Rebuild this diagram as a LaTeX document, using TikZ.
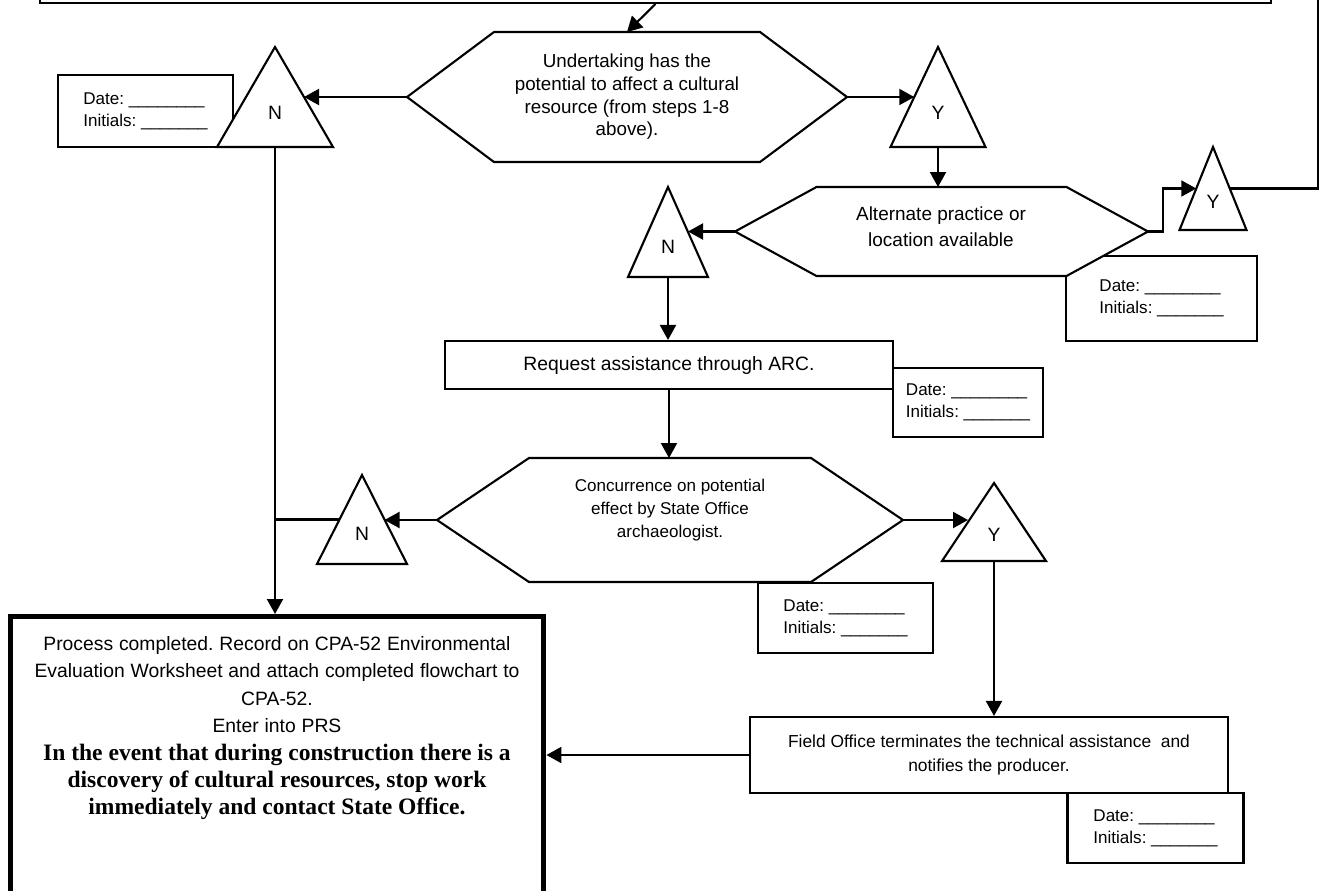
\documentclass[tikz,border=0pt]{standalone}
\usepackage{fontspec}
\setmainfont{Liberation Sans}
\newfontfamily\timesfont{Liberation Serif}
\usetikzlibrary{calc,arrows.meta}
\frenchspacing
\def\hexbox(#1)(#2,#3)(#4:#5:#6){%
	\coordinate (#1-w) at ({#2-#4},#3);
	\coordinate (#1-e) at ({#2+#4},#3);
	\coordinate (#1-n) at (#2,{#3-#5});
	\coordinate (#1-s) at (#2,{#3+#5});
	\draw[fill=white] (#1-w) -- ({#2-#4+#6},{#3-#5}) -- ({#2+#4-#6},{#3-#5}) -- (#1-e) -- ({#2+#4-#6},{#3+#5}) -- ({#2-#4+#6},{#3+#5}) -- cycle;}
\def\ynbox(#1)(#2,#3)(#4:#5)#6{%
	\coordinate (#1-n) at (#2,#3);
	\coordinate (#1-sw) at ({#2-#4},{#3+#5});
	\coordinate (#1-se) at ({#2+#4},{#3+#5});
	\draw[fill=white] (#1-n) -- (#1-sw) -- (#1-se) -- cycle;
	\coordinate (#1-w) at ($(#1-n)!0.5!(#1-sw)$);
	\coordinate (#1-e) at ($(#1-n)!0.5!(#1-se)$);
	\coordinate (#1-s) at ($(#1-sw)!0.5!(#1-se)$);
	\node[yn] (#1) at ($(#1-n)!0.66!(#1-s)$) {#6};}
\def\dateinit{Date: \_\_\_\_\_\_\_\_\\Initials: \_\_\_\_\_\_\_}

\begin{document}
\begin{tikzpicture}[x=0.02cm, y=-0.02cm, line width=1.2pt,
		flow/.style={-{Triangle[length=0.3cm,width=0.32cm]}},
		stepbox/.style={draw, fill=white, align=center, inner sep=0pt},
		datebox/.style={draw, fill=white, align=left, inner sep=0pt, font=\fontsize{9.7}{12.5}\selectfont},
		hextext/.style={align=center, inner sep=0pt},
		yn/.style={inner sep=0pt, font=\fontsize{11}{13}\selectfont}]
		%%%%% START %%%%%
		\useasboundingbox (0,0) rectangle (1321,890);
		\clip (0,0) rectangle (1321,890);
		
		\node[stepbox, anchor=south, minimum width=24.62cm, minimum height=2cm] (prev) at (655.5,4) {};
		\coordinate (loop) at (1318,-20);
		
		\node[datebox, minimum width=3.5cm, minimum height=1.44cm] (d1) at (145.5,111) {\dateinit};
		\node[datebox, minimum width=3.82cm, minimum height=1.7cm] (d2) at (1161.5,298.5) {\dateinit};
		\node[datebox, minimum width=3.5cm, minimum height=1.4cm] (d3) at (845.5,618) {\dateinit};
		\node[datebox, minimum width=3cm, minimum height=1.38cm] (d4) at (968,402.5) {\dateinit};
		\node[datebox, minimum width=3.52cm, minimum height=1.4cm] (d5) at (1155.5,828) {\dateinit};
		
		\hexbox(undertake)(627,97)(220:65:87)
		\node[hextext, font=\fontsize{10.7}{12.9}\selectfont] (undertake) at (627,97) {Undertaking has the\\potential to affect a cultural\\resource (from steps 1-8\\above).};
		
		\hexbox(alt)(941.5,231.5)(206.5:44.5:81.5)
		\node[hextext, font=\fontsize{10.8}{14.8}\selectfont] (alt) at (941,227) {Alternate practice or\\location available};
		
		\hexbox(concur)(670,520)(233:62:92)
		\node[hextext, font=\fontsize{9.7}{13.1}\selectfont] (concur) at (670,510) {Concurrence on potential\\effect by State Office\\archaeologist.};
		
		\ynbox(T1)(275,47)(58:100){N}
		\ynbox(T2)(938,47)(47.5:100){Y}
		\ynbox(T4)(668,187)(40:90){N}
		\ynbox(T5)(1213,147)(33.5:83){Y}
		\ynbox(T6)(362,475)(45:89){N}
		\ynbox(T3)(994,483)(52:78){Y}
		
		\node[stepbox, minimum width=8.96cm, minimum height=0.96cm, font=\fontsize{11}{13}\selectfont] (arc) at (669,365) {Request assistance through ARC.};
		\node[stepbox, minimum width=9.56cm, minimum height=1.52cm, font=\fontsize{9.9}{14.2}\selectfont] (field) at (989,755) {Field Office terminates the technical assistance\ \ and\\notifies the producer.};
		
		\node[stepbox, anchor=north, line width=2.8pt, text width=10.28cm, inner xsep=0.2cm, inner ysep=0.4cm, text depth=5cm] (done) at (277,614) {{\fontsize{11}{15.6}\selectfont Process completed. Record on CPA-52 Environmental\\Evaluation Worksheet and attach completed flowchart to\\CPA-52.\\Enter into PRS\par}{\timesfont\bfseries\fontsize{13.4}{15.6}\selectfont In the event that during construction there is a\\discovery of cultural resources, stop work\\immediately and contact State Office.\par}};
		
		\draw[flow] (prev.south) -- (undertake-n);
		\draw[flow] (undertake-w) -- (undertake-w -| T1-e);
		\draw[flow] (undertake-e) -- (undertake-e -| T2-w);
		\draw[flow] (T2-s) -- (T2-s |- alt-n);
		\draw[flow] (alt-w) -- (alt-w -| T4-e);
		\draw[flow] (alt-e) -- ++(15,0) |- (T5-w);
		\draw (T5-e) -| (loop);
		\draw[flow] (T4-s) -- (T4-s |- arc.north);
		\draw[flow] (arc.south) -- (arc.south |- concur-n);
		\draw[flow] (concur-w) -- (concur-w -| T6-e);
		\draw (T6-w) -- (T6-w -| T1-s);
		\draw[flow] (T1-s) -- (T1-s |- done.north);
		\draw[flow] (concur-e) -- (concur-e -| T3-w);
		\draw[flow] (T3-s) -- (T3-s |- field.north);
		\draw[flow] (field.west) -- (field.west -| done.east);
		
		%%%%% END %%%%%
\end{tikzpicture}
\end{document}
